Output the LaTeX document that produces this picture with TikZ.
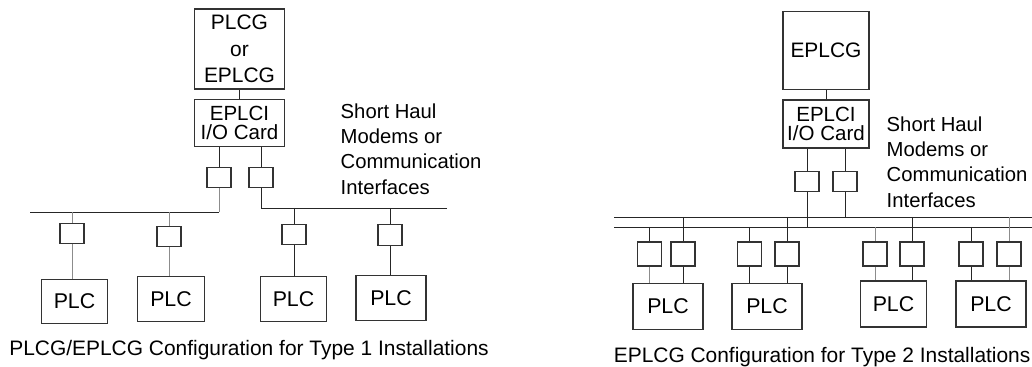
\documentclass[tikz,border=0pt]{standalone}
\usepackage{fontspec}
\setmainfont{Liberation Sans}
\usetikzlibrary{positioning}

\begin{document}
\begin{tikzpicture}[
    x=0.75pt, y=-0.75pt,
    every node/.style={font=\fontsize{15.7}{18}\selectfont},
    unit/.style={draw=black!80, line width=0.8pt, inner sep=0pt, align=center},
    gateway/.style={unit, minimum width=68pt, minimum height=60pt, font=\fontsize{15.7}{20}\selectfont},
    card/.style={unit, minimum width=68pt, minimum height=35pt, font=\fontsize{15.4}{14.6}\selectfont},
    modem/.style={unit, minimum width=18pt, minimum height=15.5pt},
    plc/.style={unit, minimum width=50pt, minimum height=33.5pt, font=\fontsize{16}{18}\selectfont},
    note/.style={align=left, anchor=west, font=\fontsize{15.2}{19}\selectfont},
    wire/.style={line width=0.6pt, black!85},
    lead/.style={wire, black!45}
  ]
  \useasboundingbox (0,0) rectangle (1032,367);
  \clip (0,0) rectangle (1032,367);

  % Type 1
  \node[gateway] (plcg) at (239.5,49) {PLCG\\or\\EPLCG};
  \node[card] (card1) at (239.5,123) {EPLCI\\I/O Card};
  \draw[wire] (plcg) -- (card1);
  \node[modem] (hm1) at (219,177.5) {};
  \node[modem] (hm2) at (261,177.5) {};
  \draw[wire] (card1.south -| hm1) -- (hm1);
  \draw[wire] (card1.south -| hm2) -- (hm2);
  \node[note] (haul1) at (336,149) {Short Haul\\Modems or\\Communication\\Interfaces};

  \coordinate (busA) at (30,212);
  \coordinate (busB) at (447,208);
  \draw[wire] (busA) -- (busA -| hm1);
  \draw[lead] (busA -| hm1) -- (hm1);
  \draw[wire] (busB) -| (hm2);

  \node[modem] (ma) at (72,233.5) {};
  \node[modem] (mb) at (169,236.5) {};
  \node[modem] (mc) at (294,234.5) {};
  \node[modem] (md) at (390,235) {};
  \node[plc] (plc1) at (74.5,301.5) {PLC};
  \node[plc] (plc2) at (171,299) {PLC};
  \node[plc] (plc3) at (293.5,299) {PLC};
  \node[plc, minimum width=52.5pt] (plc4) at (391,298) {PLC};
  \draw[lead] (ma |- busA) -- (ma) -- (ma |- plc1.north);
  \draw[lead] (mb |- busA) -- (mb) -- (mb |- plc2.north);
  \draw[wire] (mc |- busB) -- (mc) -- (mc |- plc3.north);
  \draw[wire] (md |- busB) -- (md) -- (md |- plc4.north);
  \node (cap1) at (249,350) {PLCG/EPLCG Configuration for Type 1 Installations};

  % Type 2
  \node[gateway, minimum width=64.5pt, minimum height=58pt] (eplcg) at (826,50.5) {EPLCG};
  \node[card, minimum width=64.5pt, minimum height=36pt] (card2) at (826,124) {EPLCI\\I/O Card};
  \draw[wire] (eplcg) -- (card2);
  \node[modem, minimum height=14.5pt] (hm3) at (807,181.5) {};
  \node[modem, minimum height=14.5pt] (hm4) at (845,181.5) {};
  \draw[wire] (card2.south -| hm3) -- (hm3);
  \draw[wire] (card2.south -| hm4) -- (hm4);
  \node[note] (haul2) at (882,162) {Short Haul\\Modems or\\Communication\\Interfaces};

  \coordinate (busC) at (614,217);
  \coordinate (busD) at (614,227);
  \draw[wire] (busC) -- ++(430,0);
  \draw[wire] (busD) -- ++(430,0);
  \draw[wire] (hm3) -- (hm3 |- busD);
  \draw[wire] (hm4) -- (hm4 |- busC);

  \node[modem, minimum height=18pt] (m1a) at (649.5,254) {};
  \node[modem, minimum height=18pt] (m1b) at (683,254) {};
  \node[modem, minimum height=18pt] (m2a) at (749.5,254) {};
  \node[modem, minimum height=18pt] (m2b) at (787,254) {};
  \node[modem, minimum height=18pt] (m3a) at (875,254) {};
  \node[modem, minimum height=18pt] (m3b) at (912,254) {};
  \node[modem, minimum height=18pt] (m4a) at (971,254) {};
  \node[modem, minimum height=18pt] (m4b) at (1009,254) {};
  \node[plc, minimum width=52.5pt, minimum height=34pt] (plc5) at (668,306.5) {PLC};
  \node[plc, minimum width=52.5pt, minimum height=34pt] (plc6) at (767,306.5) {PLC};
  \node[plc, minimum height=34.5pt] (plc7) at (893.5,304) {PLC};
  \node[plc, minimum width=52.5pt, minimum height=34.5pt] (plc8) at (991,304) {PLC};
  \draw[wire] (m1a |- busD) -- (m1a);
  \draw[lead] (m1a) -- (m1a |- plc5.north);
  \draw[wire] (m1b |- busC) -- (m1b) -- (m1b |- plc5.north);
  \draw[wire] (m2a |- busD) -- (m2a) -- (m2a |- plc6.north);
  \draw[wire] (m2b |- busC) -- (m2b) -- (m2b |- plc6.north);
  \draw[lead] (m3a |- busD) -- (m3a) -- (m3a |- plc7.north);
  \draw[wire] (m3b |- busC) -- (m3b) -- (m3b |- plc7.north);
  \draw[wire] (m4a |- busD) -- (m4a) -- (m4a |- plc8.north);
  \draw[lead] (m4b |- busC) -- (m4b) -- (m4b |- plc8.north);
  \node[anchor=east, inner sep=1pt] (cap2) at (1032,357) {EPLCG Configuration for Type 2 Installations};
\end{tikzpicture}
\end{document}
